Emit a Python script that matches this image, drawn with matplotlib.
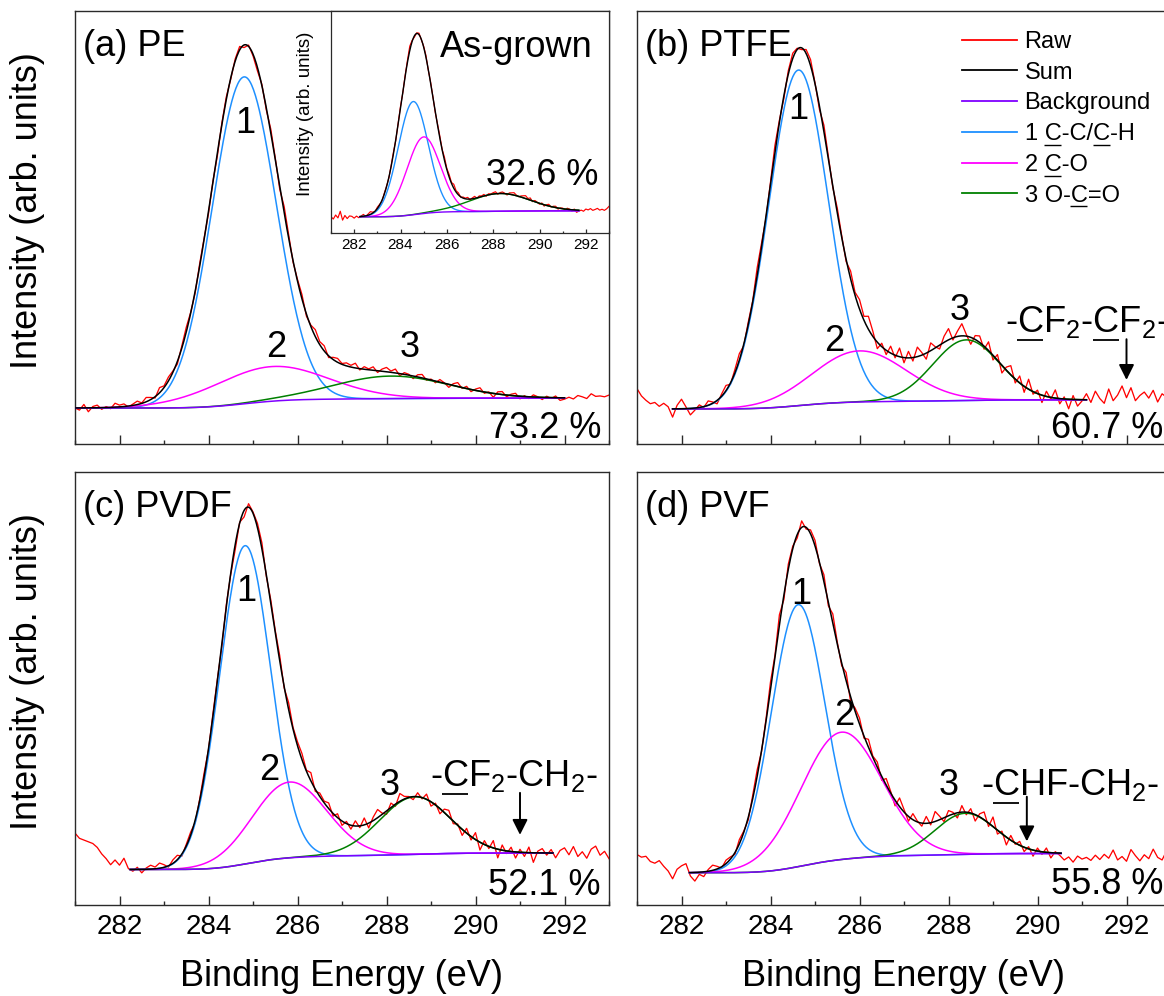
import math
import numpy as np
import matplotlib
matplotlib.use("Agg")
import matplotlib.pyplot as plt
from matplotlib.lines import Line2D
from matplotlib.ticker import MultipleLocator

plt.rcParams["font.family"] = ["Liberation Sans", "DejaVu Sans"]
plt.rcParams["mathtext.fontset"] = "custom"
plt.rcParams["mathtext.rm"] = "Liberation Sans"
plt.rcParams["mathtext.it"] = "Liberation Sans:italic"
plt.rcParams["mathtext.bf"] = "Liberation Sans:bold"
plt.rcParams["mathtext.sf"] = "Liberation Sans"

W, H = 1164, 996

# ---------------------------------------------------------------- data
# binding-energy grid of the recorded C 1s spectra (eV)
energy = np.round(np.arange(281.0, 293.05, 0.1), 1)

# fitted components 1 (C-C/C-H), 2 (C-O), 3 (O-C=O): centre, sigma, height
asg_center = [284.55, 285.00, 288.30]
asg_sigma = [0.65, 0.72, 1.30]
asg_height = [51.0, 34.5, 8.0]
asg_bg = [7.3, 10.0]
asg_range = [282.25, 291.70]
asg_residual = [
    0.0, -1.0, 0.8, -0.5, 2.5, -1.5, 0.6, -0.8, 0.4, 0.2, -0.6,
    0.3, -0.4, 0.2, 0.8, -0.3, 0.5, 1.2, 0.4, -0.2, 0.6,
    0.3, -0.5, 0.4, 0.2, -0.3, 0.5, 0.8, -0.4, 0.3, 0.6,
    -0.5, 0.4, 0.9, 2.0, 0.5, -0.6, 0.3, 0.7, -0.2, 0.4,
    0.8, -0.3, 0.5, 0.2, -0.4, 0.6, 0.9, 0.3, 1.4, 0.5,
    1.2, 0.4, 1.8, 0.6, 0.9, -0.2, 0.5, 0.3, 0.8, -0.3,
    0.4, 0.9, -0.2, 0.6, 0.3, 0.7, -0.4, 0.5, 0.2, 0.6,
    0.9, -0.3, 0.4, 0.7, 0.2, -0.5, 0.6, 0.8, 1.1, 0.3,
    -0.2, 0.5, 0.9, 1.3, 0.4, 1.0, -0.3, 0.6, 0.2, -0.4,
    0.5, -0.6, 0.3, 0.8, -0.2, 0.4, 0.6, -0.5, 0.2, 0.3,
    -0.3, 0.5, 0.2, -0.6, 0.4, -1.0, -0.4, 0.3, -0.2, 0.8,
    0.4, 1.0, 0.2, 0.6, 1.1, 0.3, 0.7, 0.2, 0.9, 2.0,
]

pe_center = [284.80, 285.40, 288.10]
pe_sigma = [0.72, 1.28, 1.30]
pe_height = [75.5, 8.0, 5.2]
pe_bg = [8.3, 10.6]
pe_range = [281.00, 292.00]
pe_residual = [
    0.0, -0.5, 0.8, -0.9, 0.3, 0.6, -0.4, 0.2, -0.3, 0.9, 0.4,
    0.6, -0.2, 0.3, 0.8, 0.1, 1.0, 0.5, -0.3, 1.2, 0.4,
    0.9, 0.3, -0.6, 0.5, 1.1, 0.2, -0.4, 0.6, 0.3, -0.5,
    0.2, -0.7, 0.4, 0.6, -0.3, 0.5, 0.8, -0.6, 0.3, -0.4,
    -0.8, 0.3, -0.5, 0.9, 0.4, -0.6, 1.5, 0.8, -0.3, 0.4,
    1.0, -0.5, 0.3, 1.6, 0.7, 1.2, -0.4, 0.5, 0.9, 0.2,
    0.7, 0.4, 1.1, -0.3, 0.6, 0.2, 0.8, -0.4, 0.5, 1.0,
    0.3, 0.9, -0.5, 0.4, 0.2, -0.6, 0.5, 0.8, -0.3, 0.2,
    -0.4, 0.6, 0.1, -0.7, 0.4, 0.9, -0.2, 0.5, -0.5, 0.3,
    0.8, -0.3, 0.2, -0.9, 0.5, 0.7, -0.4, 0.3, 0.6, -0.6,
    0.2, -0.4, 0.5, 0.1, -0.5, 0.3, -0.2, 0.4, -0.6, -0.3,
    0.2, -0.2, 0.6, 0.3, -0.1, 1.0, 0.4, 0.5, 0.3, 0.7,
]

ptfe_center = [284.63, 286.00, 288.40]
ptfe_sigma = [0.67, 1.05, 0.75]
ptfe_height = [77.5, 11.8, 14.0]
ptfe_bg = [8.1, 10.2]
ptfe_range = [281.80, 291.10]
ptfe_residual = [
    4.7, 3.0, 2.0, 1.2, 1.5, 0.6, 1.3, 0.5, -1.9, 0.8, 2.2,
    0.4, -1.5, -0.5, 0.6, -0.2, 1.0, 0.3, -0.8, 0.5, 1.2,
    -0.3, 0.8, 1.5, -0.4, 0.6, 0.2, 1.8, 0.9, -0.5, 0.4,
    1.6, 0.5, -0.6, 0.8, 1.2, 0.3, -0.4, 0.9, 1.4, 0.2,
    -0.8, 1.5, 0.6, -0.3, 1.1, 0.4, -0.5, 1.8, 0.7, 2.2,
    0.9, 3.0, 1.2, -1.5, 0.8, -1.0, 1.6, -0.6, 2.0, -1.2,
    1.5, -0.8, 2.2, 0.6, -1.4, 1.8, 0.3, -0.9, 1.4, 2.6,
    -0.5, 1.2, 2.8, 0.4, -1.6, 0.9, 1.5, -0.7, 2.0, -1.1,
    1.3, -1.8, 0.7, 2.1, -0.9, 1.6, -1.4, 2.3, -0.6, 0.8,
    -1.7, 1.2, -0.4, 1.9, -1.2, 0.5, -2.2, 0.9, -1.5, -0.3,
    1.4, -0.6, 2.0, 0.3, -0.8, 2.5, -0.2, 1.1, 3.2, 0.5,
    2.8, -0.2, 1.0, 1.8, 0.4, 2.2, -0.5, 1.4, 0.6, 1.9,
]

pvdf_center = [284.82, 285.82, 288.64]
pvdf_sigma = [0.57, 0.83, 0.80]
pvdf_height = [73.5, 17.5, 13.3]
pvdf_bg = [8.2, 12.0]
pvdf_range = [282.24, 291.74]
pvdf_residual = [
    8.4, 7.2, 6.8, 6.4, 6.0, 5.1, 3.6, 2.5, 1.1, 2.2, 1.0, 2.6, 0.2,
    -0.4, 0.5, -0.8, 0.3, 0.9, 0.4, 1.2, 0.6,
    -0.3, 0.8, 1.0, -0.5, 0.4, 0.7, -0.6, 0.3, 0.9, -0.2,
    0.6, 0.4, -0.8, 0.5, -0.3, -1.2, 0.2, -1.5, 0.8, 0.3,
    1.0, 1.4, -0.4, 0.8, 0.5, 1.2, -0.3, 1.6, 0.4, 0.9,
    1.4, 0.2, 1.9, -0.5, 0.8, 0.4, 1.3, -0.6, 0.9, -1.0,
    0.5, -0.9, 1.2, -0.4, 1.6, -1.1, 0.8, 1.9, 0.3, -0.8,
    1.0, -0.5, 1.8, 0.6, 0.2, -0.7, 0.9, -0.3, 1.2, -1.0,
    0.4, -1.2, 0.8, 1.5, -0.6, 0.3, -1.4, 1.1, -0.8, 1.6,
    -1.8, 0.9, -0.5, 1.7, -2.0, 1.2, -0.6, 1.0, -1.4, 0.7,
    -0.9, 1.3, -2.2, 0.4, 1.0, -0.5, 0.8, -1.1, 0.6, 1.2,
    -0.4, 1.5, -0.8, 0.3, -1.2, 0.9, 1.6, -0.5, 0.4, -1.3,
]

pvf_center = [284.62, 285.59, 288.38]
pvf_sigma = [0.60, 0.91, 0.68]
pvf_height = [60.5, 29.4, 9.5]
pvf_bg = [7.45, 11.9]
pvf_range = [282.18, 290.53]
pvf_residual = [
    4.2, 3.6, 3.8, 2.6, 2.2, 2.8, 1.5, 0.4, -1.4, 0.8, 1.6, 2.1,
    -0.8, -2.0, -0.5, -1.1, 0.4, 1.2, 0.6, -0.3, 0.8,
    0.5, -0.4, 1.0, 0.3, -0.6, 0.8, 1.5, -0.2, 0.6, 1.8,
    0.4, 2.4, -1.0, 1.2, 0.6, -0.8, 1.5, -0.4, 0.9, 1.3,
    -0.3, 1.6, -0.8, 2.2, 0.5, -0.6, 1.9, -1.2, 0.7, 1.4,
    -0.5, 1.8, 0.3, 1.2, -0.9, 1.5, 0.4, -1.3, 2.0, 0.6,
    -1.1, 1.4, 0.2, -0.7, 1.6, -0.5, 2.3, 0.8, -0.9, 1.2,
    0.4, -1.2, 1.5, -0.6, 1.0, -1.5, 0.7, 1.8, -0.8, 2.2,
    -0.9, 0.6, -1.8, 1.1, -0.3, 0.9, -1.0, 0.5, -1.4, 0.7,
    -0.6, 1.0, -1.2, 0.3, -0.5, -1.5, -0.8, -2.0, -0.6, -1.3,
    -0.9, -1.6, -0.4, -1.4, -0.2, -1.1, 0.8, -1.5, -0.7, -1.8,
    0.9, -0.5, -1.7, -0.3, -1.2, 1.0, -0.9, -1.5, 0.6, 1.3,
]

legend_labels = ["Raw", "Sum", "Background", "1 C-C/C-H", "2 C-O", "3 O-C=O"]
legend_underlined = [[], [], [], [2, 6], [2], [4]]

COL_RAW = "#FF0000"
COL_SUM = "#000000"
COL_BG = "#7F00FF"
COL_COMP = ["#1E90FF", "#FF00FF", "#008000"]
SPINE = "#2a2a2a"

# ---------------------------------------------------------------- model
_erf = np.vectorize(math.erf)


def components(x, centers, sigmas, heights):
    return [h * np.exp(-0.5 * ((x - c) / s) ** 2)
            for c, s, h in zip(centers, sigmas, heights)]


def shirley(x, centers, sigmas, heights, bg, rng):
    def cum(t):
        t = np.asarray(t, dtype=float)
        return sum(h * s * (1.0 + _erf((t - c) / (s * math.sqrt(2.0))))
                   for c, s, h in zip(centers, sigmas, heights))
    lo, hi = rng
    frac = (cum(np.clip(x, lo, hi)) - cum(lo)) / (cum(hi) - cum(lo))
    return bg[0] + (bg[1] - bg[0]) * frac


def draw_spectrum(ax, centers, sigmas, heights, bg, rng, residual, lw=1.1):
    inside = (energy >= rng[0]) & (energy <= rng[1])
    fit_on_grid = shirley(energy, centers, sigmas, heights, bg, rng) + \
        np.where(inside, sum(components(energy, centers, sigmas, heights)), 0.0)
    raw = fit_on_grid + np.asarray(residual)
    ax.plot(energy, raw, color=COL_RAW, lw=lw * 0.85, zorder=2)

    xf = np.linspace(rng[0], rng[1], 500)
    bgf = shirley(xf, centers, sigmas, heights, bg, rng)
    comps = components(xf, centers, sigmas, heights)
    for comp, col in zip(comps, COL_COMP):
        ax.plot(xf, bgf + comp, color=col, lw=lw, zorder=3)
    ax.plot(xf, bgf, color=COL_BG, lw=lw, zorder=3.5)
    ax.plot(xf, bgf + sum(comps), color=COL_SUM, lw=lw, zorder=4)


def style_axes(ax, show_labels, labelsize=20, major_len=6.5, minor_len=3.2, pad=6.5, lw=1.0):
    ax.set_xlim(281, 293)
    ax.set_ylim(0, 100)
    ax.set_yticks([])
    ax.xaxis.set_major_locator(MultipleLocator(2))
    ax.xaxis.set_minor_locator(MultipleLocator(1))
    ax.tick_params(axis="x", which="both", direction="in", top=False, bottom=True,
                   labelbottom=show_labels, color=SPINE, width=lw)
    ax.tick_params(axis="x", which="major", length=major_len, labelsize=labelsize, pad=pad)
    ax.tick_params(axis="x", which="minor", length=minor_len)
    for sp in ax.spines.values():
        sp.set_color(SPINE)
        sp.set_linewidth(lw)


fig = plt.figure(figsize=(W / 100, H / 100), dpi=100)


def px_axes(left, top, right, bottom):
    return fig.add_axes([left / W, 1 - bottom / H, (right - left) / W, (bottom - top) / H])


ax_a = px_axes(75, 11, 609, 444)
ax_b = px_axes(637, 11, 1171, 444)
ax_c = px_axes(75, 472, 609, 905)
ax_d = px_axes(637, 472, 1171, 905)

panels = [
    (ax_a, pe_center, pe_sigma, pe_height, pe_bg, pe_range, pe_residual, False),
    (ax_b, ptfe_center, ptfe_sigma, ptfe_height, ptfe_bg, ptfe_range, ptfe_residual, False),
    (ax_c, pvdf_center, pvdf_sigma, pvdf_height, pvdf_bg, pvdf_range, pvdf_residual, True),
    (ax_d, pvf_center, pvf_sigma, pvf_height, pvf_bg, pvf_range, pvf_residual, True),
]
for ax, c, s, h, bg, rng, res, lab in panels:
    draw_spectrum(ax, c, s, h, bg, rng, res)
    style_axes(ax, lab)

BIG = 26
titles = [(ax_a, "(a) PE", "73.2 %", 0.013), (ax_b, "(b) PTFE", "60.7 %", 0.013),
          (ax_c, "(c) PVDF", "52.1 %", 0.022), (ax_d, "(d) PVF", "55.8 %", 0.025)]
for ax, t, pct, ypct in titles:
    ax.text(0.015, 0.895, t, transform=ax.transAxes, fontsize=BIG, ha="left", va="baseline", zorder=6)
    ax.text(0.985, ypct, pct, transform=ax.transAxes, fontsize=BIG, ha="right", va="baseline", zorder=6)

# component numbers
peak_tags = {
    ax_a: [(284.82, 71.8), (285.52, 20.2), (288.53, 20.1)],
    ax_b: [(284.63, 75.0), (285.43, 21.5), (288.26, 28.6)],
    ax_c: [(284.86, 70.2), (285.37, 28.9), (288.08, 25.5)],
    ax_d: [(284.70, 69.5), (285.65, 41.5), (288.00, 25.3)],
}
for ax, tags in peak_tags.items():
    for k, (x, y) in enumerate(tags, start=1):
        ax.text(x, y, str(k), fontsize=BIG, ha="center", va="baseline", zorder=6)

# polymer backbone carbon markers
formulas = [
    (ax_b, "-CF$_2$-CF$_2$-", [1, 8], (289.26, 25.9), (292.00, 24.2, 14.8)),
    (ax_c, "-CF$_2$-CH$_2$-", [1], (288.98, 27.4), (291.00, 25.9, 16.2)),
    (ax_d, "-CHF-CH$_2$-", [1], (288.73, 25.3), (289.76, 25.0, 14.7)),
]
formula_texts = []
for ax, s, idx, (tx, ty), (axx, y0, y1) in formulas:
    t = ax.text(tx, ty, s, fontsize=BIG, ha="left", va="baseline", zorder=6)
    formula_texts.append((ax, t, idx, ty))
    ax.annotate("", xy=(axx, y1), xytext=(axx, y0),
                arrowprops=dict(arrowstyle="-|>", color="k", lw=1.4,
                                mutation_scale=23, shrinkA=0, shrinkB=0), zorder=6)

# inset: as-grown film
ax_in = px_axes(331, 11, 609, 233)
ax_in.set_facecolor("white")
draw_spectrum(ax_in, asg_center, asg_sigma, asg_height, asg_bg, asg_range, asg_residual, lw=1.0)
style_axes(ax_in, True, labelsize=11, major_len=3.0, minor_len=1.6, pad=3.5, lw=0.9)
ax_in.text(0.94, 0.794, "As-grown", transform=ax_in.transAxes, fontsize=BIG, ha="right", va="baseline")
ax_in.text(0.96, 0.216, "32.6 %", transform=ax_in.transAxes, fontsize=BIG, ha="right", va="baseline")
fig.text(305 / W, 1 - 114 / H, "Intensity (arb. units)", rotation=90, ha="center", va="center",
         fontsize=13.5)

# axis titles
for yc in (211, 672):
    fig.text(28 / W, 1 - yc / H, "Intensity (arb. units)", rotation=90, ha="center", va="center",
             fontsize=BIG)
for xc in (342, 904):
    fig.text(xc / W, 1 - 976 / H, "Binding Energy (eV)", ha="center", va="center", fontsize=BIG)

# legend
handles = [Line2D([], [], color=c, lw=1.3) for c in [COL_RAW, COL_SUM, COL_BG] + COL_COMP]
leg = fig.legend(handles, legend_labels, loc="upper left", bbox_to_anchor=(962 / W, 1 - 31 / H),
                 frameon=False, fontsize=17, handlelength=2.35, handletextpad=0.3,
                 labelspacing=0.37, borderpad=0, borderaxespad=0)

# underline the marked carbon atoms
fig.canvas.draw()
renderer = fig.canvas.get_renderer()
to_fig = fig.transFigure.inverted()


def text_w(s, prop):
    return renderer.get_text_width_height_descent(s, prop, ismath=("$" in s))[0]


def underline(s, prop, x0, base, idx_list, drop_em, lw):
    fs_px = prop.get_size_in_points() * fig.dpi / 72.0
    y = base - drop_em * fs_px
    for i in idx_list:
        xe = x0 + text_w(s[:i + 1], prop)
        xs = xe - text_w(s[i], prop)
        p0 = to_fig.transform((xs, y))
        p1 = to_fig.transform((xe, y))
        fig.add_artist(Line2D([p0[0], p1[0]], [p0[1], p1[1]], color="k", lw=lw,
                              transform=fig.transFigure, solid_capstyle="butt"))


for ax, t, idx, ty in formula_texts:
    bb = t.get_window_extent(renderer)
    base = ax.transData.transform((281, ty))[1]
    underline(t.get_text(), t.get_fontproperties(), bb.x0, base, idx, 0.22, 1.3)

for t, idx in zip(leg.get_texts(), legend_underlined):
    if not idx:
        continue
    prop = t.get_fontproperties()
    bb = t.get_window_extent(renderer)
    lp_d = renderer.get_text_width_height_descent("lp", prop, ismath=False)[2]
    underline(t.get_text(), prop, bb.x0, bb.y0 + lp_d, idx, 0.2, 1.0)

fig.savefig("out.png", dpi=100)
